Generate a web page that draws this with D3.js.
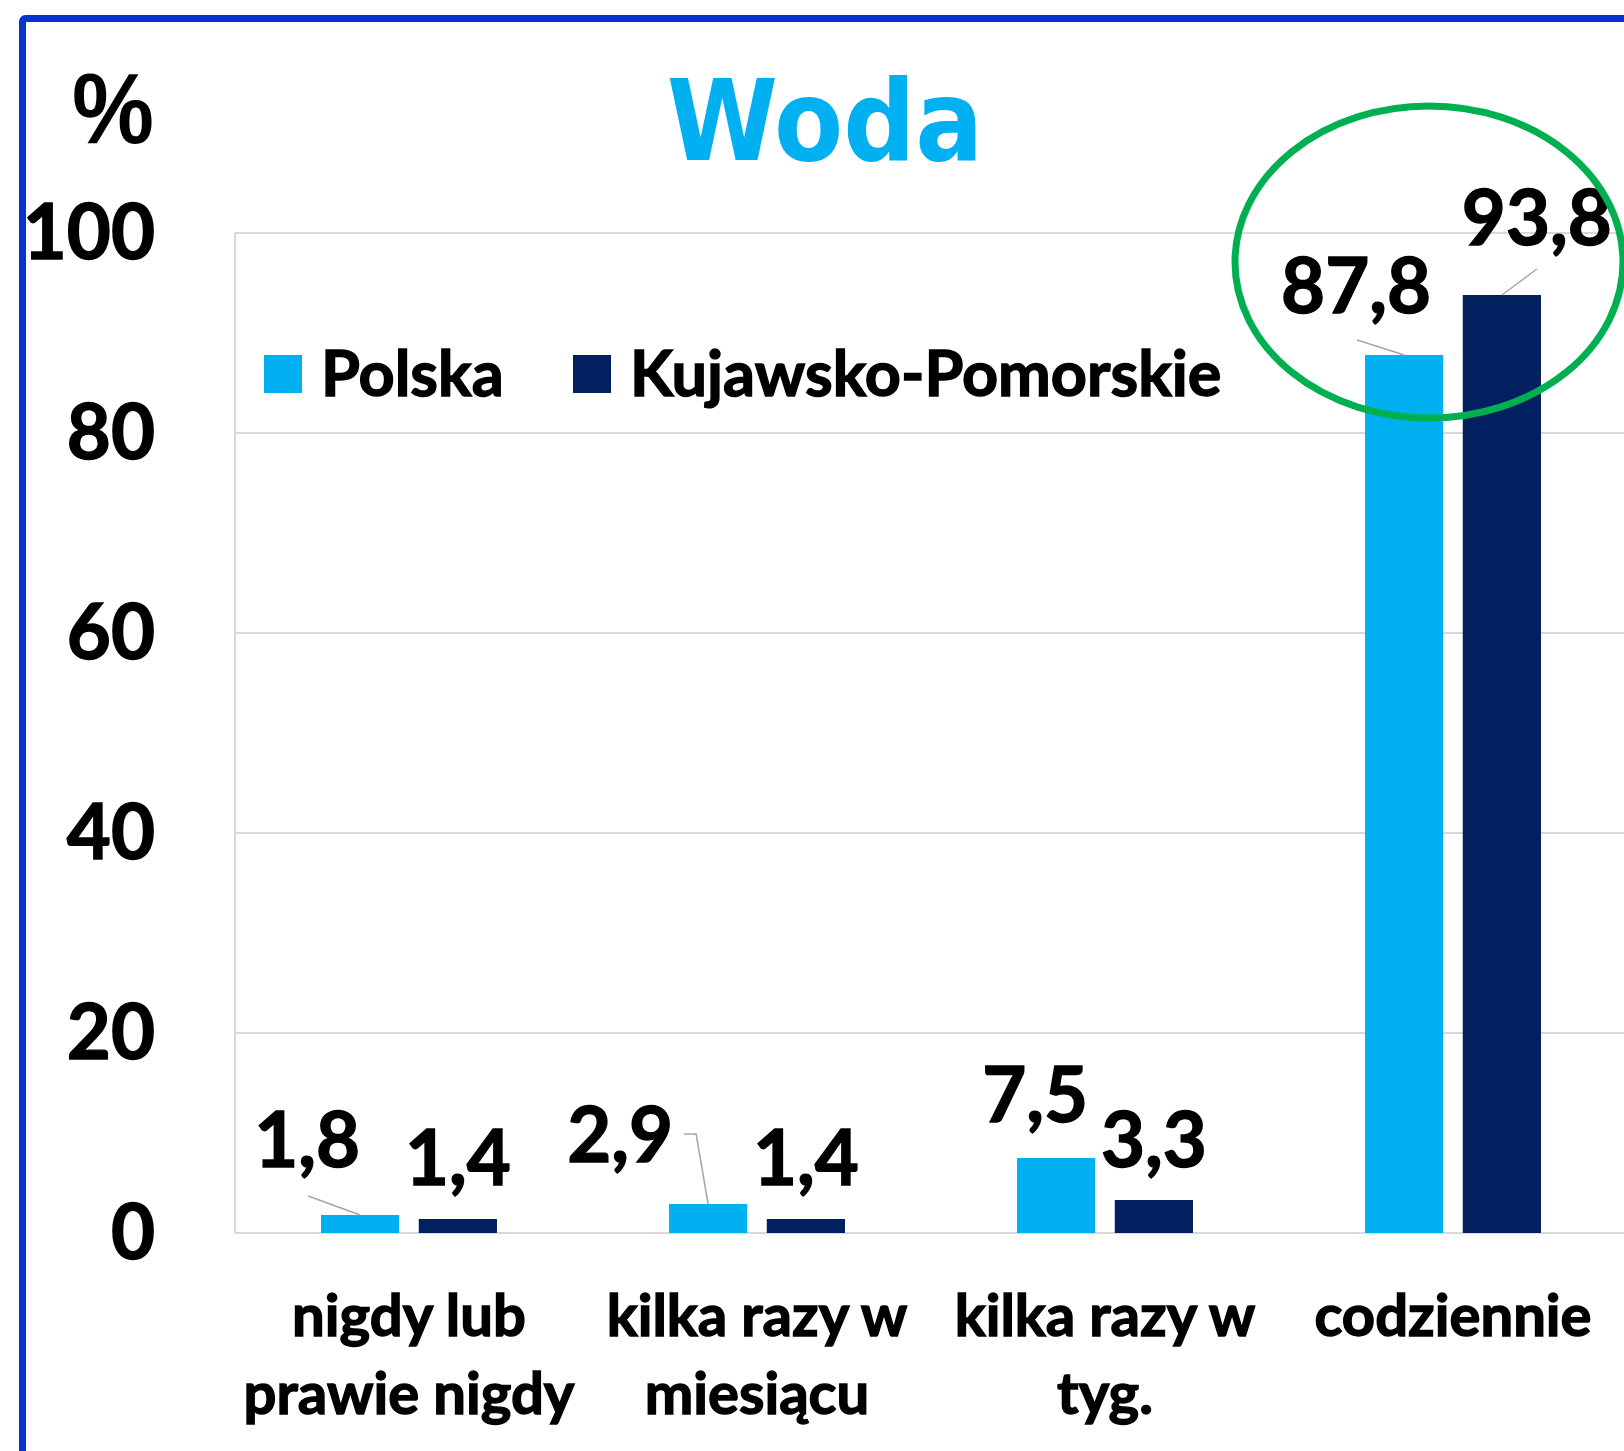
<!DOCTYPE html>
<html lang="pl">

<head>
    <meta charset="UTF-8">
    <title>Woda</title>
    <style>
        body {
            margin: 0;
            background: #fff;
        }

        svg {
            display: block;
        }

        .num {
            font-family: Lato, "Noto Sans", sans-serif;
            font-weight: 700;
            fill: #000;
            stroke: #000;
            stroke-width: 1.4px;
        }
    </style>
</head>

<body>
    <svg></svg>
    <script src="https://cdn.jsdelivr.net/npm/d3@7.8.5/dist/d3.min.js"></script>
    <script>
        // data
        const categories = [
            ['nigdy lub', 'prawie nigdy'],
            ['kilka razy w', 'miesiącu'],
            ['kilka razy w', 'tyg.'],
            ['codziennie']
        ]
        const series = ['Polska', 'Kujawsko-Pomorskie']
        const polska = [1.8, 2.9, 7.5, 87.8]
        const kujawsko = [1.4, 1.4, 3.3, 93.8]
        const yTicks = [0, 20, 40, 60, 80, 100]
        const colors = ['#00B0F0', '#002060']

        // label nudges (dx, dy from bar top centre) and leader line points, as placed in the original
        const labelShift = [
            [{ dx: -53, dy: -48, leader: [[1, 29]] }, { dx: 0, dy: -34 }],
            [{ dx: -88, dy: -42, leader: [[64, -28], [76, -28]] }, { dx: 0, dy: -34 }],
            [{ dx: -21, dy: -36 }, { dx: 0, dy: -33 }],
            [{ dx: -48, dy: -42, leader: [[1, 27]] }, { dx: 35, dy: -50, leader: [[0, 24]] }]
        ]

        const W = 1624, H = 1451
        const svg = d3.select('svg').attr('width', W).attr('height', H)

        const plot = { left: 235, right: 1627, top: 233, bottom: 1233 }

        const x0 = d3.scaleBand()
            .domain(d3.range(categories.length))
            .range([plot.left, plot.right])

        const x1 = d3.scaleBand()
            .domain(series)
            .range([0, x0.bandwidth()])
            .paddingInner(0.2)
            .paddingOuter(0.88)

        const y = d3.scaleLinear().domain([0, 100]).range([plot.bottom, plot.top])

        // blue frame
        svg.append('rect')
            .attr('x', 22.5).attr('y', 18.5)
            .attr('width', W + 20).attr('height', H + 20)
            .attr('rx', 3)
            .attr('fill', 'none')
            .attr('stroke', '#0433D1')
            .attr('stroke-width', 7)

        // gridlines
        svg.append('g')
            .selectAll('line')
            .data(yTicks)
            .join('line')
            .attr('x1', plot.left).attr('x2', plot.right)
            .attr('y1', d => y(d)).attr('y2', d => y(d))
            .attr('stroke', '#D9D9D9')
            .attr('stroke-width', 2)

        svg.append('line')
            .attr('x1', plot.left).attr('x2', plot.left)
            .attr('y1', plot.top).attr('y2', plot.bottom)
            .attr('stroke', '#D9D9D9')
            .attr('stroke-width', 2)

        // y tick labels
        svg.append('g')
            .selectAll('text')
            .data(yTicks)
            .join('text')
            .attr('class', 'num')
            .attr('x', 155)
            .attr('y', d => y(d) + 26)
            .attr('text-anchor', 'end')
            .attr('font-size', 76)
            .text(d => d)

        svg.append('text')
            .attr('x', 154).attr('y', 143)
            .attr('text-anchor', 'end')
            .attr('font-family', '"Liberation Sans", Arial, sans-serif')
            .attr('font-weight', 700)
            .attr('font-size', 100)
            .attr('textLength', 82)
            .attr('lengthAdjust', 'spacingAndGlyphs')
            .text('%')

        // title
        svg.append('text')
            .attr('x', 825).attr('y', 160)
            .attr('text-anchor', 'middle')
            .attr('font-family', '"DejaVu Sans", Verdana, sans-serif')
            .attr('font-weight', 700)
            .attr('font-stretch', 'condensed')
            .attr('font-size', 112)
            .attr('fill', '#00B0F0')
            .text('Woda')

        // bars
        const rows = categories.map((c, i) => series.map((s, j) => ({
            cat: i, series: s, j: j,
            value: j === 0 ? polska[i] : kujawsko[i]
        })))

        const groups = svg.append('g')
            .selectAll('g')
            .data(rows)
            .join('g')
            .attr('transform', (d, i) => `translate(${x0(i)},0)`)

        groups.selectAll('rect')
            .data(d => d)
            .join('rect')
            .attr('x', d => x1(d.series))
            .attr('y', d => y(d.value))
            .attr('width', x1.bandwidth())
            .attr('height', d => y(0) - y(d.value))
            .attr('fill', d => colors[d.j])

        // value labels + leader lines
        rows.flat().forEach(d => {
            const cx = x0(d.cat) + x1(d.series) + x1.bandwidth() / 2
            const top = y(d.value)
            const s = labelShift[d.cat][d.j]
            const lx = cx + s.dx, ly = top + s.dy
            if (s.leader) {
                const pts = s.leader.map(p => [lx + p[0], ly + p[1]]).concat([[cx, top]])
                svg.append('path')
                    .attr('d', d3.line()(pts))
                    .attr('fill', 'none')
                    .attr('stroke', '#A6A6A6')
                    .attr('stroke-width', 1.5)
            }
            svg.append('text')
                .attr('class', 'num')
                .attr('x', lx).attr('y', ly)
                .attr('text-anchor', 'middle')
                .attr('font-size', 76)
                .text(String(d.value.toFixed(1)).replace('.', ','))
        })

        // category labels
        svg.append('g')
            .selectAll('text')
            .data(categories)
            .join('text')
            .attr('class', 'num')
            .attr('text-anchor', 'middle')
            .attr('font-size', 58)
            .attr('x', (d, i) => x0(i) + x0.bandwidth() / 2)
            .attr('y', 1336)
            .selectAll('tspan')
            .data(d => d)
            .join('tspan')
            .attr('x', function () { return this.parentNode.getAttribute('x') })
            .attr('dy', (d, i) => i === 0 ? 0 : 78)
            .text(d => d)

        // legend
        const legendX = [264, 573]
        const legend = svg.append('g')
            .selectAll('g')
            .data(series)
            .join('g')
            .attr('transform', (d, i) => `translate(${legendX[i]},355)`)
        legend.append('rect')
            .attr('width', 38).attr('height', 38)
            .attr('fill', (d, i) => colors[i])
        legend.append('text')
            .attr('class', 'num')
            .attr('x', 57).attr('y', 41)
            .attr('font-size', 63)
            .text(d => d)

        // green highlight ellipse
        svg.append('ellipse')
            .attr('cx', 1429).attr('cy', 262)
            .attr('rx', 194).attr('ry', 156)
            .attr('fill', 'none')
            .attr('stroke', '#00B050')
            .attr('stroke-width', 7)
    </script>
</body>

</html>
